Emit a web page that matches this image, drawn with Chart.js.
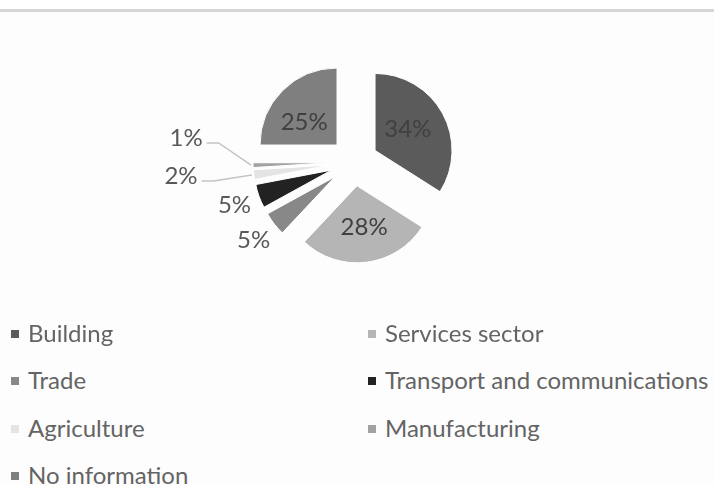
<!DOCTYPE html>
<html>
<head>
<meta charset="utf-8">
<script src="https://cdn.jsdelivr.net/npm/chart.js@4.4.0/dist/chart.umd.min.js"></script>
<style>
  html, body { margin: 0; padding: 0; }
  body { width: 714px; height: 486px; background: #fdfdfd; position: relative; overflow: hidden; font-family: Lato, sans-serif; }
  .topbar { position: absolute; left: 0; top: 0; width: 714px; height: 9px; background: #fff; border-bottom: 3px solid #d6d6d6; }
  .chart-box { position: absolute; left: 0; top: 0; width: 714px; height: 324px; }
  .item { position: absolute; font-size: 24px; line-height: 28px; color: #646464; white-space: nowrap; }
  .item i { position: absolute; left: -17px; top: 11px; width: 8px; height: 8px; }
</style>
</head>
<body>
<div class="topbar"></div>
<div class="chart-box"><canvas id="pie"></canvas></div>
<div id="legend"></div>
<script>
const sectors = ['Building', 'Services sector', 'Trade', 'Transport and communications', 'Agriculture', 'Manufacturing', 'No information'];
const shares = [34, 28, 5, 5, 2, 1, 25];
const sliceColors = ['#5b5b5b', '#b5b5b5', '#888888', '#222222', '#e4e4e4', '#a2a2a2', '#7f7f7f'];

// pull every slice out from the centre, like the exploded Excel pie
const explodePlugin = {
    id: 'explode',
    afterDatasetsUpdate(chart, args, opts) {
        chart.getDatasetMeta(0).data.forEach(arc => {
            const mid = (arc.startAngle + arc.endAngle) / 2;
            arc.x += Math.cos(mid) * opts.distance;
            arc.y += Math.sin(mid) * opts.distance;
        });
    }
};

// percentage labels, inside the big slices, outside (with leader lines) for the small ones
const pctLabels = {
    id: 'pctLabels',
    afterDatasetsDraw(chart, args, opts) {
        const ctx = chart.ctx;
        const total = shares.reduce((a, b) => a + b, 0);
        ctx.save();
        ctx.font = opts.font;
        ctx.textAlign = 'center';
        ctx.textBaseline = 'middle';
        chart.getDatasetMeta(0).data.forEach((arc, i) => {
            const mid = (arc.startAngle + arc.endAngle) / 2;
            const dx = Math.cos(mid), dy = Math.sin(mid);
            const text = Math.round(shares[i] / total * 100) + '%';
            const shift = opts.shifts[i] || [0, 0];
            if (shares[i] >= 10) {
                ctx.fillStyle = '#404040';
                ctx.fillText(text, arc.x + dx * arc.outerRadius * 0.53 + shift[0], arc.y + dy * arc.outerRadius * 0.53 + shift[1]);
                return;
            }
            const lx = arc.x + dx * (arc.outerRadius + 26) + shift[0];
            const ly = arc.y + dy * (arc.outerRadius + 26) + shift[1];
            if (opts.callouts.includes(i)) {
                const half = ctx.measureText(text).width / 2;
                ctx.strokeStyle = '#c4c4c4';
                ctx.lineWidth = 1.5;
                ctx.beginPath();
                ctx.moveTo(lx + half + 4, ly + 5);
                ctx.lineTo(lx + half + 16, ly + 5);
                ctx.lineTo(arc.x + dx * (arc.outerRadius + 2), arc.y + dy * (arc.outerRadius + 2));
                ctx.stroke();
            }
            ctx.fillStyle = '#595959';
            ctx.fillText(text, lx, ly);
        });
        ctx.restore();
    }
};

new Chart(document.getElementById('pie'), {
    type: 'pie',
    data: {
        labels: sectors,
        datasets: [{
            data: shares,
            backgroundColor: sliceColors,
            borderColor: '#ffffff',
            borderWidth: 1
        }]
    },
    options: {
        responsive: true,
        maintainAspectRatio: false,
        animation: false,
        radius: 77,
        layout: { padding: { right: 6 } },
        plugins: {
            legend: { display: false },
            tooltip: { enabled: false },
            explode: { distance: 24 },
            pctLabels: {
                font: '24px Lato, sans-serif',
                shifts: { 0: [-3, -2], 1: [2, 1], 4: [-47, -2], 5: [-41, -28], 6: [-4, 6] },
                callouts: [4, 5]
            }
        }
    },
    plugins: [explodePlugin, pctLabels]
});

// two-column legend under the pie
const legend = document.getElementById('legend');
sectors.forEach((name, i) => {
    const item = document.createElement('div');
    item.className = 'item';
    item.style.left = (i % 2 ? 385 : 28) + 'px';
    item.style.top = (319 + Math.floor(i / 2) * 47.3) + 'px';
    const box = document.createElement('i');
    box.style.background = sliceColors[i];
    item.appendChild(box);
    item.appendChild(document.createTextNode(name));
    legend.appendChild(item);
});
</script>
</body>
</html>
